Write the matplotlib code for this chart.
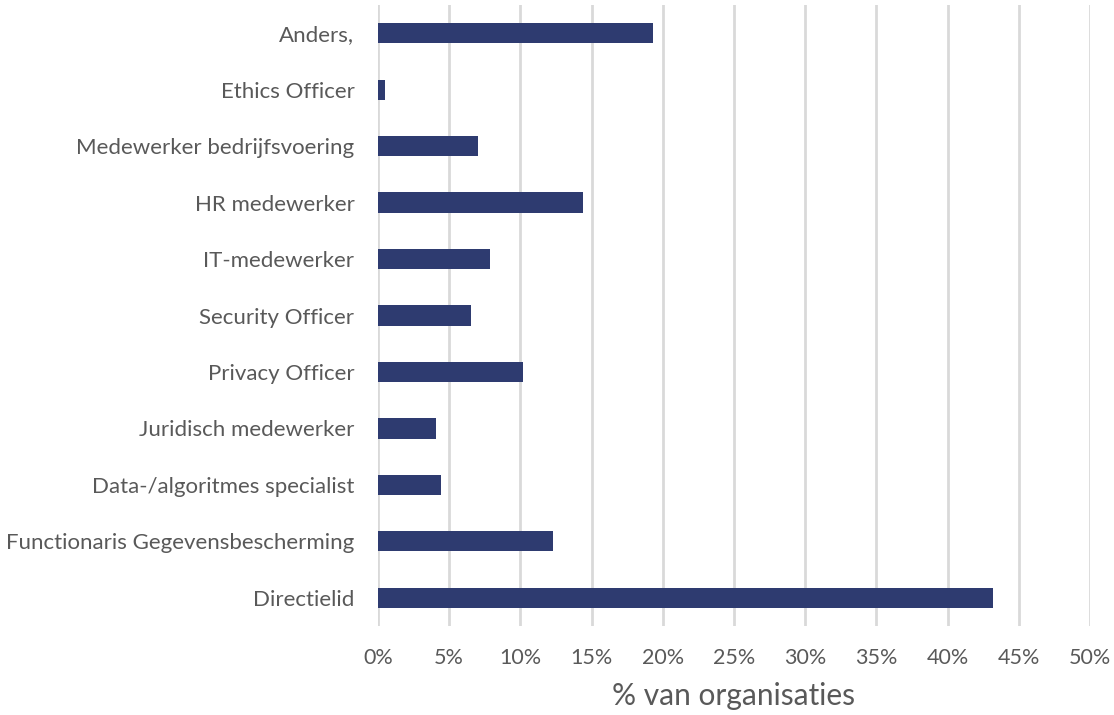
import matplotlib
matplotlib.use("Agg")
import matplotlib.pyplot as plt
from matplotlib.ticker import FuncFormatter

categories = ["Directielid", "Functionaris Gegevensbescherming", "Data-/algoritmes specialist",
              "Juridisch medewerker", "Privacy Officer", "Security Officer", "IT-medewerker",
              "HR medewerker", "Medewerker bedrijfsvoering", "Ethics Officer", "Anders,"]
values = [43.2, 12.3, 4.4, 4.1, 10.2, 6.5, 7.9, 14.4, 7.0, 0.5, 19.3]
xticks = [0, 5, 10, 15, 20, 25, 30, 35, 40, 45, 50]

plt.rcParams['font.family'] = ['Lato', 'DejaVu Sans']
txt = '#595959'

fig = plt.figure(figsize=(11.14, 7.15), dpi=100)
ax = fig.add_axes([378/1114, 1 - 626/715, (1090-378)/1114, (626-5)/715])

ypos = list(range(len(categories)))
ax.barh(ypos, values, height=0.36, color='#2E3B70', zorder=3)
ax.set_ylim(-0.5, len(categories) - 0.5)
ax.set_xlim(0, 50)
ax.set_xticks(xticks)
ax.xaxis.set_major_formatter(FuncFormatter(lambda v, p: f"{int(v)}%"))
ax.set_yticks(ypos)
ax.set_yticklabels(categories)
ax.grid(axis='x', color='#D9D9D9', linewidth=2, zorder=0)
for s in ax.spines.values():
    s.set_visible(False)
ax.tick_params(axis='both', length=0, colors=txt)
ax.tick_params(axis='x', pad=16, labelsize=15.5)
ax.tick_params(axis='y', pad=17, labelsize=16)
ax.set_xlabel("% van organisaties", fontsize=21.5, color=txt, labelpad=10)

fig.savefig("out.png", dpi=100)
